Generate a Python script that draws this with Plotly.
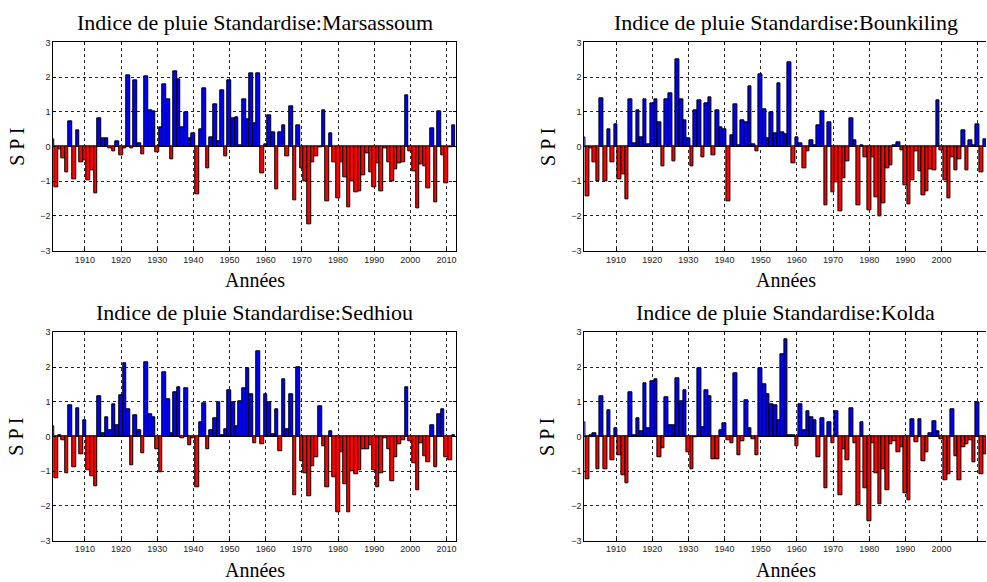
import plotly.graph_objects as go

# Standardised precipitation index (SPI), one value per year 1901-2012
years = list(range(1901, 2013))

spi_marsassoum = [
    0.22, -1.17, -0.08, -0.33, -0.75, 0.72, -0.95, 0.47, -0.45,          # 1901-1909
    -0.40, -0.98, -0.68, -1.35, 0.80, 0.23, 0.23, -0.05, -0.15, 0.14,   # 1910s
    -0.25, -0.04, 2.05, -0.05, 1.92, 0.08, -0.23, 2.03, 1.05, 1.00,     # 1920s
    -0.18, 0.55, 1.80, 1.36, -0.37, 2.17, 1.93, 0.55, 0.99, 0.24,       # 1930s
    0.37, -1.38, 0.49, 1.67, -0.64, 0.27, 1.21, 0.16, 1.61, -0.29,      # 1940s
    1.90, 0.82, 0.85, 0.02, 1.36, 0.77, 2.12, 0.67, 2.10, -0.77,        # 1950s
    0.07, 0.91, 0.41, -1.24, 0.41, 0.62, -0.29, 1.17, -1.55, 0.62,      # 1960s
    -0.62, -1.00, -2.23, -0.46, -0.27, -0.02, 1.03, -1.58, 0.37, -0.45, # 1970s
    -1.50, -0.45, -0.90, -1.74, -1.00, -1.32, -1.28, -0.82, -0.20, -0.73,  # 1980s
    -1.18, -0.48, -1.30, -0.05, -0.46, -1.00, -0.66, -0.48, -0.46, 1.47,   # 1990s
    -0.13, -0.72, -1.77, -0.51, -0.56, -1.20, 0.53, -1.62, 1.02, -0.25,    # 2000s
    -1.05, -0.02, 0.62,                                                    # 2010-2012
]

spi_bounkiling = [
    0.27, -1.43, -0.05, -0.45, -1.00, 1.40, -1.00, 0.49, -0.46,
    0.64, -0.95, -0.80, -1.53, 1.37, 0.09, 1.05, 0.27, 1.35, 0.06,
    1.24, 1.35, 0.70, -0.57, 1.35, 1.52, -0.42, 2.52, 1.37, 0.75,
    0.25, -0.57, 1.05, 1.32, -0.32, 1.24, 1.43, -0.25, 1.03, 0.55,
    0.49, -1.58, 0.31, 1.21, 0.03, 0.76, 0.69, 1.72, 0.06, -0.15,
    2.09, 1.08, 0.24, 0.98, 0.37, 1.83, 0.41, 0.35, 2.43, -0.49,
    0.27, 0.09, -0.62, -0.13, 0.18, 0.02, 0.61, 1.00, -1.70, 0.69,
    -1.32, -1.03, -1.87, -0.91, -0.42, 0.80, 0.18, -1.70, 0.02, -0.30,
    -1.85, -0.32, -1.45, -2.02, -1.65, -0.62, -0.55, 0.02, 0.13, -0.10,
    -1.13, -1.67, -0.98, -0.15, -0.72, -1.42, -1.30, -0.65, -0.70, 1.33,
    -0.10, -0.98, -1.48, -0.32, -0.70, -0.38, 0.47, -0.68, 0.17, 0.02,
    0.64, -0.73, 0.20,
]

spi_sedhiou = [
    0.30, -1.20, 0.03, -0.12, -1.06, 0.91, -0.89, 0.82, -0.51,
    0.48, -0.96, -1.15, -1.43, 1.15, 0.10, 0.54, 0.17, 0.93, 0.32,
    1.19, 2.11, 0.78, -0.82, 0.62, 0.17, -0.49, 2.13, 0.64, 0.54,
    -0.38, -1.04, 1.86, 1.07, 0.10, 1.28, 1.43, -0.05, 1.40, -0.25,
    -0.05, -1.45, 0.40, 0.95, -0.37, 0.18, 0.53, 0.97, 0.02, 0.20,
    1.32, 0.98, 0.28, 1.02, 1.38, 1.95, 1.22, -0.20, 2.45, -0.23,
    1.22, 0.98, 0.05, 0.77, -0.42, 1.65, 0.20, 1.22, -1.68, 2.00,
    -0.72, -1.05, -1.72, -0.87, -0.60, 0.88, -0.27, -1.47, 0.14, -1.18,
    -2.17, -0.45, -1.38, -2.17, -1.00, -1.10, -0.96, -0.38, -0.38, -0.25,
    -0.96, -1.45, -1.07, -0.05, -0.37, -1.30, -0.60, -0.23, -0.12, 1.43,
    -0.14, -0.78, -1.55, -0.20, -0.57, -0.75, 0.32, -0.90, 0.65, 0.77,
    -0.60, -0.70, 0.02,
]

spi_kolda = [
    0.42, -1.24, 0.03, 0.10, -0.95, 1.15, -0.95, 0.75, -0.70,
    0.25, -0.54, -1.13, -1.34, 1.27, 0.02, 0.53, 0.14, 1.53, 0.23,
    1.60, 1.65, -0.60, -0.33, 1.13, 0.31, 0.31, 1.68, 1.00, 1.34,
    -0.45, -0.95, -0.02, 1.97, 0.27, 1.34, 1.16, -0.67, -0.65, 0.17,
    0.39, -0.10, -0.20, 1.81, -0.53, -0.13, 1.04, 0.25, -0.08, -0.54,
    1.97, 1.51, 1.21, 0.93, 0.91, 0.46, 2.36, 2.80, 0.03, 0.02,
    -0.28, 0.94, 0.17, 0.72, 0.56, 0.48, -0.61, 0.53, -1.48, 0.41,
    -0.21, 0.72, -1.68, -0.38, -0.68, 0.80, -0.20, -1.98, 0.42, -1.50,
    -2.45, -0.20, -1.05, -1.95, -0.95, -1.55, -0.22, -0.15, -0.45, -0.30,
    -1.65, -1.85, 0.50, -0.18, 0.50, -0.72, -0.45, 0.10, 0.45, 0.15,
    -0.08, -1.25, -1.10, 0.78, -0.57, -1.27, -0.30, -0.22, -0.12, -0.75,
    0.97, -1.10, -0.50,
]

stations = ["Marsassoum", "Bounkiling", "Sedhiou", "Kolda"]
series = [spi_marsassoum, spi_bounkiling, spi_sedhiou, spi_kolda]

y_ticks = [-3, -2, -1, 0, 1, 2, 3]
x_ticks = [1910, 1920, 1930, 1940, 1950, 1960, 1970, 1980, 1990, 2000, 2010]

W, H = 987, 582
# plot-area boxes in pixels: (left, right, top, bottom)
boxes = [
    (53.3, 456.0, 38, 250),
    (585.0, 987.0, 38, 250),
    (53.3, 456.0, 333, 545),
    (585.0, 987.0, 333, 545),
]
px_per_year = 3.62
x_start = 1901.25

SERIF = "Liberation Serif, Times New Roman, serif"
SANS = "Liberation Sans, Arial, sans-serif"

fig = go.Figure()
annotations = []

for i, (name, vals) in enumerate(zip(stations, series)):
    k = "" if i == 0 else str(i + 1)
    left, right, top, bottom = boxes[i]
    colors = ["#0000ff" if v >= 0 else "#ff0000" for v in vals]
    fig.add_trace(go.Bar(
        x=years, y=vals, width=1.0,
        marker=dict(color=colors, line=dict(color="black", width=1)),
        xaxis="x" + k, yaxis="y" + k, showlegend=False,
    ))
    x_end = x_start + (right - left) / px_per_year
    dom_x = [left / W, min(right / W, 1.0)]
    dom_y = [1 - bottom / H, 1 - top / H]
    right_side = i in (0, 2)
    fig.update_layout(**{
        "xaxis" + k: dict(
            domain=dom_x, range=[x_start, x_end], anchor="y" + k,
            tickvals=x_ticks, ticks="inside", ticklen=3, tickcolor="black",
            showline=True, linecolor="black", linewidth=1, mirror="ticks",
            showgrid=True, gridcolor="rgba(0,0,0,0.85)", griddash="dot", gridwidth=1,
            zeroline=False,
            tickfont=dict(family=SANS, size=9, color="#222"),
        ),
        "yaxis" + k: dict(
            domain=dom_y, range=[-3, 3], anchor="x" + k,
            tickvals=y_ticks, ticks="inside", ticklen=3, tickcolor="black",
            showline=True, linecolor="black", linewidth=1,
            mirror="ticks" if right_side else False,
            showgrid=True, gridcolor="rgba(0,0,0,0.85)", griddash="dot", gridwidth=1,
            zeroline=True, zerolinecolor="black", zerolinewidth=1,
            tickfont=dict(family=SANS, size=9, color="#222"),
        ),
    })
    cx = (left + (left + 403)) / 2 / W
    annotations.append(dict(
        text="Indice de pluie Standardise:" + name, x=cx, y=1 - (top - 20) / H,
        xref="paper", yref="paper", xanchor="center", yanchor="middle",
        showarrow=False, font=dict(family=SERIF, size=22, color="black"),
    ))
    annotations.append(dict(
        text="Années", x=cx, y=1 - (bottom + 30) / H,
        xref="paper", yref="paper", xanchor="center", yanchor="middle",
        showarrow=False, font=dict(family=SERIF, size=20, color="black"),
    ))
    annotations.append(dict(
        text="S P I", x=(left - 37) / W, y=1 - (top + bottom) / 2 / H,
        xref="paper", yref="paper", xanchor="center", yanchor="middle",
        textangle=-90, showarrow=False, font=dict(family=SERIF, size=20, color="black"),
    ))

fig.update_layout(
    width=W, height=H,
    margin=dict(l=0, r=0, t=0, b=0),
    paper_bgcolor="white", plot_bgcolor="white",
    bargap=0, annotations=annotations,
)

fig.write_html("out.html")
